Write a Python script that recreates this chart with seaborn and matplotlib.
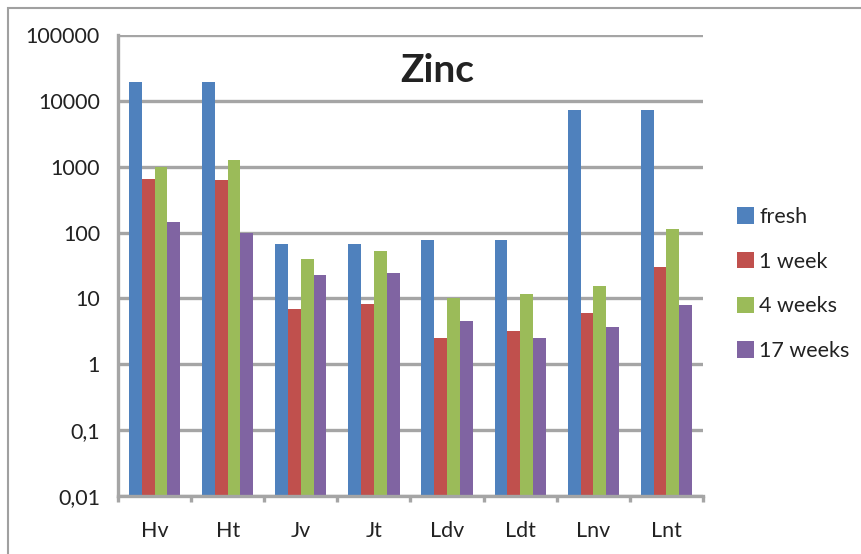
import pandas as pd
import seaborn as sns
import matplotlib.pyplot as plt
from matplotlib.patches import Rectangle, Patch

# values (log scale)
samples = ["Hv", "Ht", "Jv", "Jt", "Ldv", "Ldt", "Lnv", "Lnt"]
fresh = [19000, 19000, 67, 67, 77, 77, 7250, 7250]
week_1 = [655, 620, 6.9, 8.3, 2.5, 3.2, 6.1, 30]
weeks_4 = [980, 1250, 40, 52, 10.2, 11.5, 15.7, 113]
weeks_17 = [144, 99, 23, 24.4, 4.5, 2.5, 3.7, 7.9]
series = ["fresh", "1 week", "4 weeks", "17 weeks"]
colors = ["#4F81BD", "#C0504D", "#9BBB59", "#8064A2"]
ytick_vals = [0.01, 0.1, 1, 10, 100, 1000, 10000, 100000]
ytick_labels = ["0,01", "0,1", "1", "10", "100", "1000", "10000", "100000"]

df = pd.DataFrame({"Sample": samples, "fresh": fresh, "1 week": week_1,
                   "4 weeks": weeks_4, "17 weeks": weeks_17})
df = df.melt(id_vars="Sample", var_name="Time", value_name="Zinc")

sns.set_style("white")
plt.rcParams["font.family"] = ["Lato", "DejaVu Sans"]
grid_col = "#A5A5A5"
txt_col = "#222222"

fig = plt.figure(figsize=(8.62, 5.54), dpi=100)
ax = fig.add_axes([118 / 862, 1 - 496 / 554, (703 - 118) / 862, (496 - 35) / 554])

sns.barplot(data=df, x="Sample", y="Zinc", hue="Time", order=samples,
            hue_order=series, palette=colors, width=0.7, gap=0,
            linewidth=0, saturation=1, ax=ax, legend=False)
ax.set_yscale("log")
ax.set_ylim(0.01, 100000)
ax.set_xlim(-0.5, len(samples) - 0.5)
ax.set_yticks(ytick_vals)
ax.set_yticklabels(ytick_labels)
ax.minorticks_off()
ax.set_xticks([i - 0.5 for i in range(len(samples) + 1)], minor=True)
ax.set_xlabel("")
ax.set_ylabel("")

ax.grid(axis="y", color=grid_col, linewidth=2.4)
ax.set_axisbelow(True)
for s in ["top", "right"]:
    ax.spines[s].set_visible(False)
for s in ["left", "bottom"]:
    ax.spines[s].set_color(grid_col)
    ax.spines[s].set_linewidth(2.4)

ax.tick_params(axis="y", which="major", length=5, width=2.4, color=grid_col,
               pad=8, labelsize=15.5, labelcolor=txt_col)
ax.tick_params(axis="x", which="major", length=0, pad=18, labelsize=15.5,
               labelcolor=txt_col)
ax.tick_params(axis="x", which="minor", length=4.5, width=2.4, color=grid_col,
               direction="out", bottom=True)

fig.text(437 / 862, 1 - 70 / 554, "Zinc", fontsize=28, fontweight="bold",
         color=txt_col, ha="center", va="center")

handles = [Patch(facecolor=c, edgecolor="none") for c in colors]
fig.legend(handles, series, loc="center left", bbox_to_anchor=(726 / 862, 1 - 284 / 554),
           frameon=False, fontsize=15.5, labelspacing=1.15, handlelength=0.8,
           handleheight=0.8, handletextpad=0.25, borderpad=0, labelcolor=txt_col)

fig.patches.append(Rectangle((8 / 862, -0.05), 1.1, 1 - 8 / 554 + 0.05,
                             transform=fig.transFigure, fill=False,
                             edgecolor="#A0A0A0", linewidth=1.5))

fig.savefig("out.png", dpi=100)
